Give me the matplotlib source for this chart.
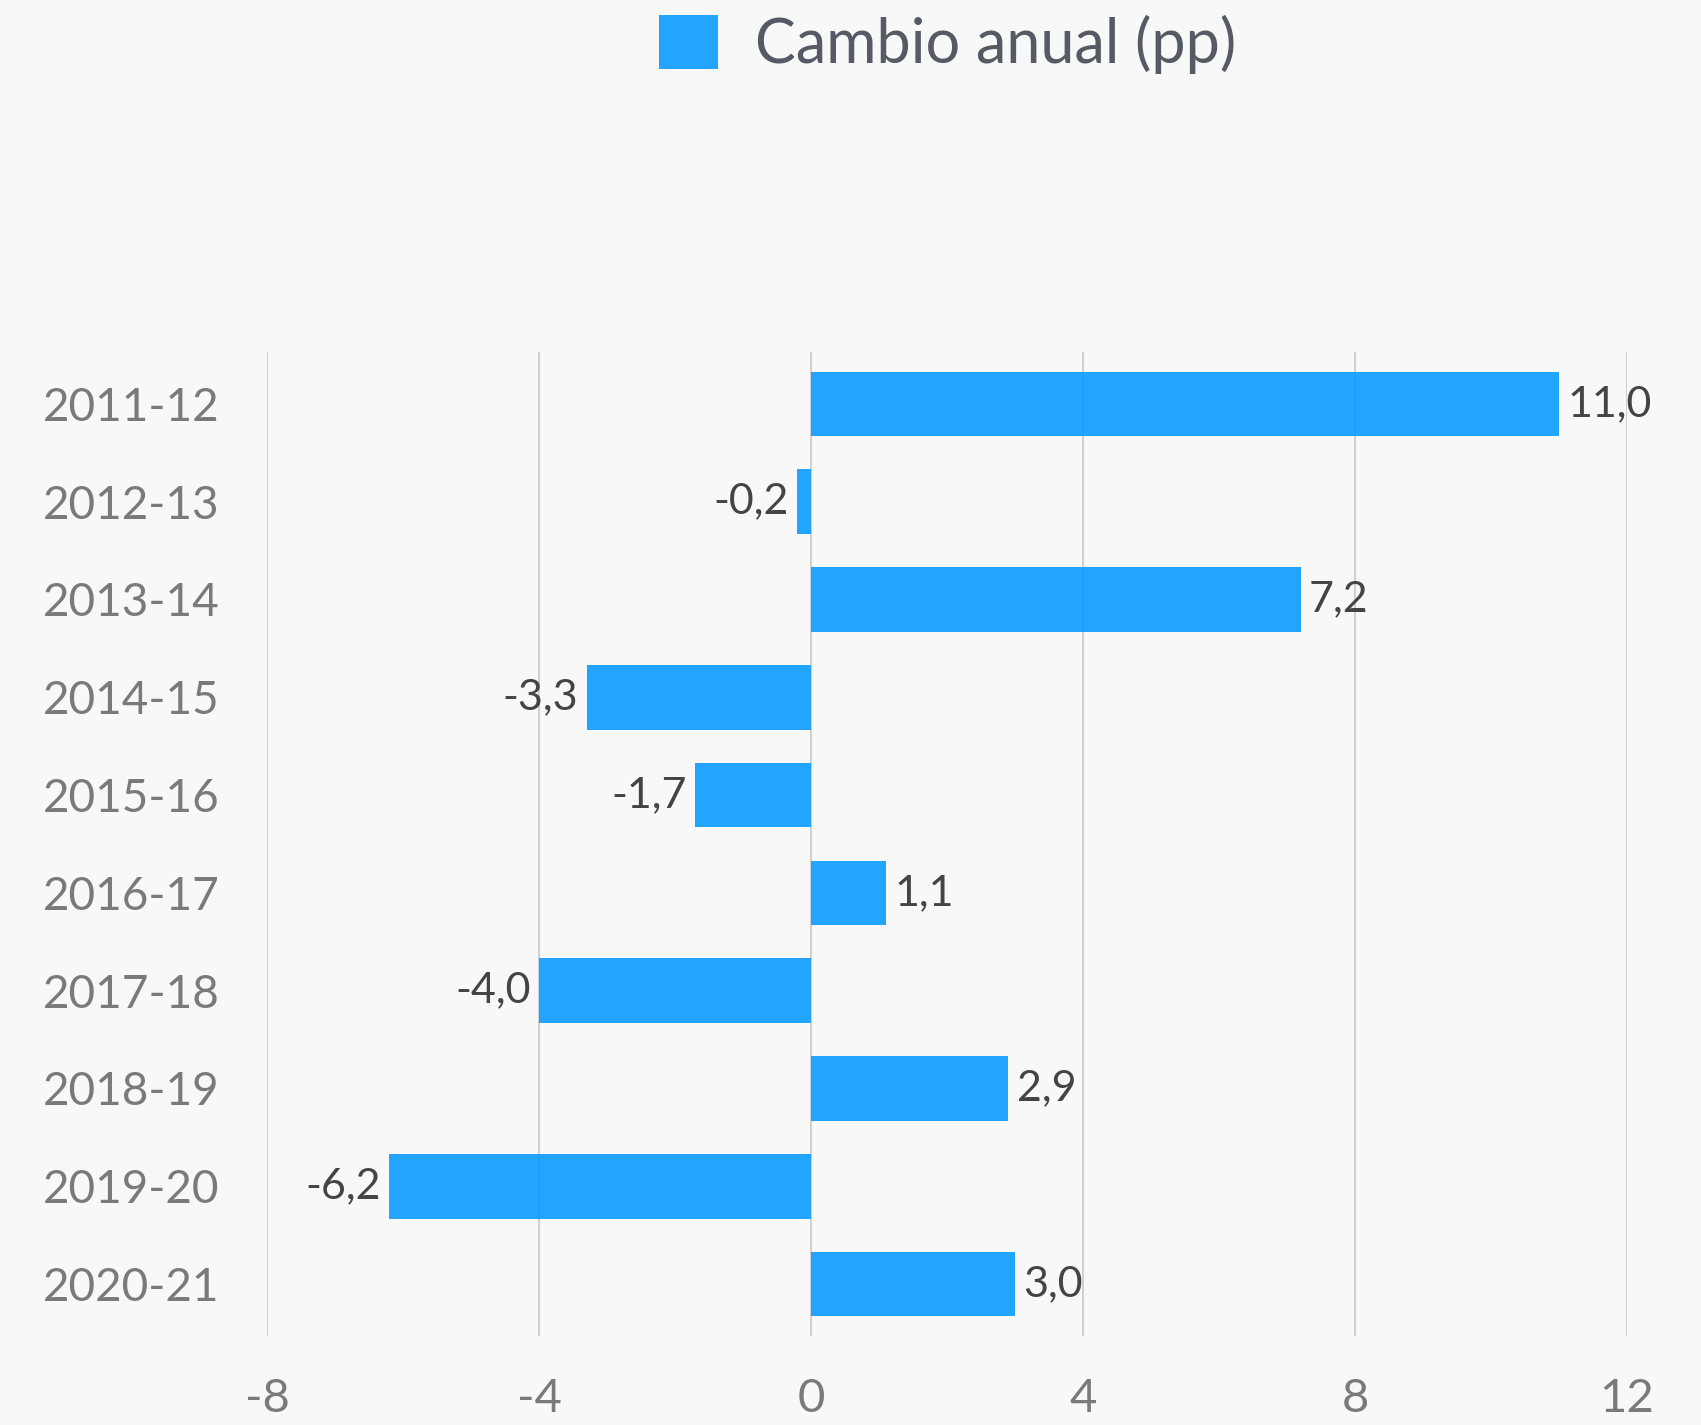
import matplotlib.pyplot as plt
from matplotlib.patches import Patch

# datos
periodos = ["2011-12", "2012-13", "2013-14", "2014-15", "2015-16",
            "2016-17", "2017-18", "2018-19", "2019-20", "2020-21"]
cambio = [11.0, -0.2, 7.2, -3.3, -1.7, 1.1, -4.0, 2.9, -6.2, 3.0]
xticks = [-8, -4, 0, 4, 8, 12]

bg = "#f8f8f8"
bar_color = "#0c9bff"

plt.rcParams["font.family"] = ["Lato", "DejaVu Sans"]

fig = plt.figure(figsize=(17.01, 14.25), dpi=100, facecolor=bg)
ax = fig.add_axes([0.157, 0.0625, 0.7995, 0.6905])
ax.set_facecolor(bg)

y = list(range(len(periodos)))
ax.barh(y, cambio, height=0.66, color=bar_color, alpha=0.9, zorder=2)

for yi, v in zip(y, cambio):
    txt = f"{v:.1f}".replace(".", ",")
    if v >= 0:
        ax.annotate(txt, (v, yi), xytext=(6, 0), textcoords="offset points",
                    ha="left", va="center", fontsize=31, color="#444444")
    else:
        ax.annotate(txt, (v, yi), xytext=(-6, 0), textcoords="offset points",
                    ha="right", va="center", fontsize=31, color="#444444")

ax.set_xlim(-8, 12)
ax.set_ylim(9.53, -0.53)
ax.set_xticks(xticks)
ax.set_xticklabels([str(t) for t in xticks], fontsize=34, color="#7a7a7a")
ax.set_yticks(y)
ax.set_yticklabels(periodos, fontsize=33, color="#7a7a7a")
ax.tick_params(axis="both", length=0)
ax.tick_params(axis="x", pad=30)
ax.tick_params(axis="y", pad=34)
ax.grid(axis="x", color="#cccccc", linewidth=1.3, zorder=0)
ax.grid(axis="y", visible=False)
for s in ax.spines.values():
    s.set_visible(False)

handle = Patch(facecolor=bar_color, alpha=0.9, edgecolor="none")
fig.legend([handle], ["Cambio anual (pp)"], loc="center",
           bbox_to_anchor=(0.557, 0.969), frameon=False, fontsize=44,
           handlelength=0.97, handleheight=0.97, handletextpad=0.6,
           labelcolor="#555a64")

plt.savefig("out.png", dpi=100, facecolor=bg)
